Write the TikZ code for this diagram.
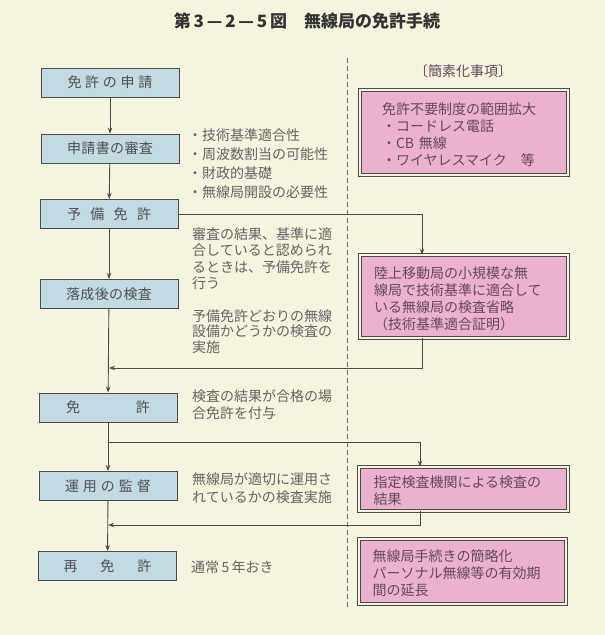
\documentclass[tikz,border=0pt]{standalone}
\usepackage{fontspec}
\setmainfont{Noto Sans CJK JP}
\usetikzlibrary{arrows.meta}
\definecolor{bg}{RGB}{246,243,222}
\definecolor{bluef}{RGB}{194,218,226}
\definecolor{pinkf}{RGB}{236,178,205}
\definecolor{linec}{RGB}{75,75,75}
\definecolor{labc}{RGB}{80,80,80}
\definecolor{sidec}{RGB}{100,100,100}
\definecolor{pinkt}{RGB}{100,72,95}
\tikzset{
  lbox/.style={draw=linec, line width=0.9pt, fill=bluef, minimum width=138pt, minimum height=29pt, inner sep=0pt, font=\fontsize{14}{16}\selectfont, text=labc},
  pbox/.style={draw=linec, line width=0.8pt, double=bg, double distance=2.6pt, fill=pinkf, inner sep=0pt, align=left, text width=180pt, font=\fontsize{14}{17}\selectfont, text=pinkt},
  side/.style={anchor=north west, inner sep=0pt, align=left, text=sidec},
  conn/.style={draw=linec, line width=0.9pt},
  arr/.style={conn, -{Stealth[length=6pt,width=4.5pt]}},
}
\newcommand{\jl}[2]{\makebox[#1][s]{#2}}
\begin{document}
\begin{tikzpicture}[x=1pt,y=-1pt]
\fill[bg] (0,0) rectangle (605,635);
\useasboundingbox (0,0) rectangle (605,635);

\node[font=\bfseries\fontsize{17}{20}\selectfont, text=black!80] (title) at (307,21) {第\,3\,—\,2\,—\,5\,図　無線局の免許手続};

% left column
\node[lbox] (b1) at (110,82.5) {\jl{85pt}{免\hfill 許\hfill の\hfill 申\hfill 請}};
\node[lbox] (b2) at (110,148.5) {\jl{86pt}{申\hfill 請\hfill 書\hfill の\hfill 審\hfill 査}};
\node[lbox] (b3) at (109,214) {\jl{84pt}{予\hfill 備\hfill 免\hfill 許}};
\node[lbox] (b4) at (109,294) {\jl{86pt}{落\hfill 成\hfill 後\hfill の\hfill 検\hfill 査}};
\node[lbox] (b5) at (108,407.5) {\jl{84pt}{免\hfill 許}};
\node[lbox] (b6) at (108,486) {\jl{86pt}{運\hfill 用\hfill の\hfill 監\hfill 督}};
\node[lbox] (b7) at (107.5,566) {\jl{88pt}{再\hfill 免\hfill 許}};

% side texts
\node[side, font=\fontsize{14}{19}\selectfont] (t1) at (188,128) {・技術基準適合性\\・周波数割当の可能性\\・財政的基礎\\・無線局開設の必要性};
\node[side, font=\fontsize{14}{16.5}\selectfont] (t2) at (192,227) {審査の結果、基準に適\\合していると認められ\\るときは、予備免許を\\行う};
\node[side, font=\fontsize{14}{15.5}\selectfont] (t3) at (192,309) {予備免許どおりの無線\\設備かどうかの検査の\\実施};
\node[side, font=\fontsize{14}{17.5}\selectfont] (t4) at (192,389) {検査の結果が合格の場\\合免許を付与};
\node[side, font=\fontsize{14}{18}\selectfont] (t5) at (192,472) {無線局が適切に運用さ\\れているかの検査実施};
\node[side, font=\fontsize{14}{17}\selectfont] (t6) at (191,560) {通常\,5\,年おき};

% right column
\node[font=\fontsize{14}{16}\selectfont, text=pinkt] (hd) at (463,71) {〔簡素化事項〕};
\node[pbox, text width=164pt, minimum width=207.8pt, minimum height=84.8pt] (p1) at (464,132.5) {\rule{0pt}{16pt}免許不要制度の範囲拡大\\・コードレス電話\\・CB 無線\\・ワイヤレスマイク　等};
\node[pbox, minimum width=207.8pt, minimum height=82.8pt] (p2) at (464,296.5) {\rule{0pt}{16pt}陸上移動局の小規模な無\\線局で技術基準に適合して\\いる無線局の検査省略\\（技術基準適合証明）};
\node[pbox, minimum width=208.8pt, minimum height=43.8pt] (p3) at (463.5,489) {\rule{0pt}{15pt}指定検査機関による検査の\\結果};
\node[pbox, minimum width=206.8pt, minimum height=64.8pt] (p4) at (462.5,571.5) {\rule{0pt}{16pt}無線局手続きの簡略化\\パーソナル無線等の有効期\\間の延長};

% separator
\coordinate (d1) at (347,58);
\coordinate (d2) at (347,607);
\draw[draw=linec!80, line width=0.8pt, dash pattern=on 5pt off 3pt] (d1) -- (d2);

% main flow
\draw[arr] (b1) -- (b2);
\draw[arr] (b2) -- (b3);
\draw[arr] (b3) -- (b4);
\draw[arr] (b4) -- (b5);
\draw[arr] (b5) -- (b6);
\draw[arr] (b6) -- (b7);

% side branches
\coordinate (x1) at (422,0);
\coordinate (x2) at (420,0);
\coordinate (m1) at (109,368);
\coordinate (m2) at (108,442);
\coordinate (m3) at (108,525);
\draw[arr] (b3.east) -| (x1 |- p2.north);
\draw[arr] (x1 |- p2.south) |- (m1);
\draw[arr] (m2) -| (x2 |- p3.north);
\draw[arr] (x2 |- p3.south) |- (m3);
\end{tikzpicture}
\end{document}
